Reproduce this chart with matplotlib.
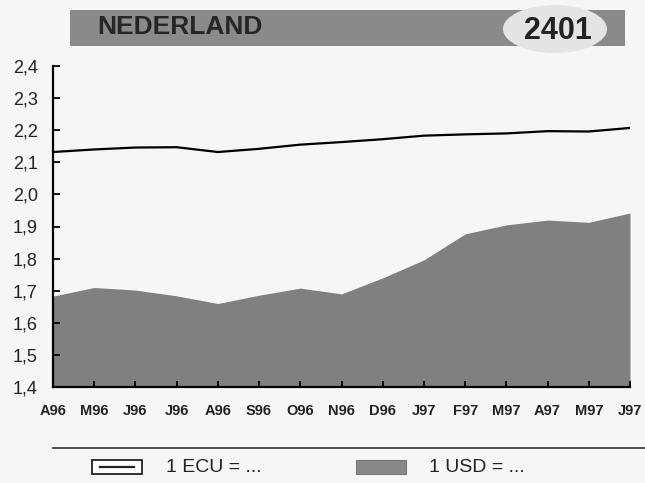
import matplotlib
matplotlib.use("Agg")
import matplotlib.pyplot as plt
from matplotlib.patches import Rectangle, Ellipse
import numpy as np

plt.rcParams['font.family'] = ['Liberation Sans', 'DejaVu Sans']

months = ["A96", "M96", "J96", "J96", "A96", "S96", "O96", "N96", "D96",
          "J97", "F97", "M97", "A97", "M97", "J97"]
ecu = [2.132, 2.140, 2.146, 2.147, 2.132, 2.142, 2.155, 2.163, 2.172,
       2.183, 2.187, 2.190, 2.197, 2.196, 2.207]
usd = [1.683, 1.710, 1.702, 1.684, 1.660, 1.686, 1.708, 1.690, 1.740,
       1.796, 1.877, 1.905, 1.920, 1.913, 1.942]
yticks = [1.4, 1.5, 1.6, 1.7, 1.8, 1.9, 2.0, 2.1, 2.2, 2.3, 2.4]
title = "NEDERLAND"
code = "2401"
legend_labels = ["1 ECU = ...", "1 USD = ..."]

W, H = 645, 483
fig = plt.figure(figsize=(W / 100, H / 100), dpi=100, facecolor="#f6f6f6")

ax = fig.add_axes([53 / W, 1 - 387 / H, (630 - 53) / W, (387 - 66) / H])
ax.set_facecolor("none")
x = np.arange(len(months))
ax.fill_between(x, 1.4, usd, color="#808080", lw=0)
ax.plot(x, ecu, color="black", lw=1.6)
ax.set_xlim(0, len(months) - 1)
ax.set_ylim(1.4, 2.4)
ax.set_yticks(yticks)
ax.set_yticklabels([f"{v:.1f}".replace(".", ",") for v in yticks], fontsize=13, color="#222222")
ax.set_xticks(x)
ax.set_xticklabels(months, fontsize=10.5, fontweight="bold", color="#222222")
ax.tick_params(axis="y", direction="in", length=5, width=1.3, pad=11)
ax.tick_params(axis="x", direction="in", length=4, width=1.3, pad=12)
for s in ["top", "right"]:
    ax.spines[s].set_visible(False)
for s in ["left", "bottom"]:
    ax.spines[s].set_linewidth(1.6)

# Title bar
ov = fig.add_axes([0, 0, 1, 1], facecolor="none")
ov.set_xlim(0, W)
ov.set_ylim(H, 0)
ov.axis("off")
ov.add_patch(Rectangle((70, 10), 555, 36, color="#8a8a8a", lw=0))
ov.add_patch(Ellipse((555, 29), 104, 48, color="#e4e4e4", lw=0))
ov.text(97, 27, title, fontsize=19, fontweight="bold", color="#262626", va="center", ha="left")
ov.text(558, 31, code, fontsize=22, fontweight="bold", color="#222222", va="center", ha="center")

# Legend
ov.plot([53, 645], [448, 448], color="#333333", lw=1.2)
ov.add_patch(Rectangle((92, 460), 50, 14, facecolor="white", edgecolor="#222222", lw=1.3))
ov.plot([100, 134], [467, 467], color="#222222", lw=1.6)
ov.text(166, 467, legend_labels[0], fontsize=14, color="#222222", va="center", ha="left")
ov.add_patch(Rectangle((356, 460), 50, 14, facecolor="#888888", edgecolor="#777777", lw=0.8))
ov.text(429, 467, legend_labels[1], fontsize=14, color="#222222", va="center", ha="left")

fig.savefig("out.png", dpi=100, facecolor=fig.get_facecolor())
